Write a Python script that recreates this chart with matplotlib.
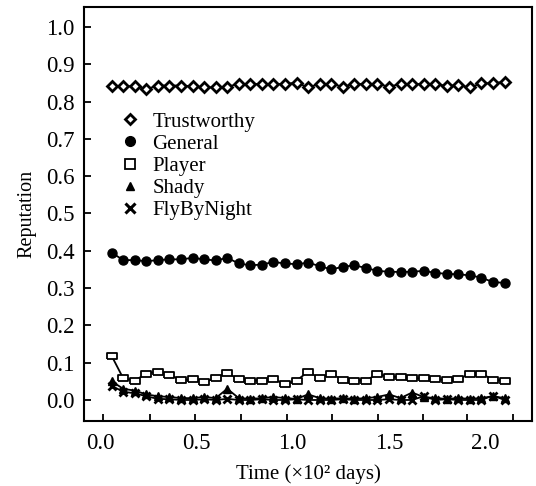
import matplotlib
matplotlib.use("Agg")
import matplotlib.pyplot as plt
from matplotlib.lines import Line2D

plt.rcParams['font.family'] = ['Liberation Serif', 'DejaVu Serif']

# time in units of 10^2 days
time = [0.06, 0.12, 0.18, 0.24, 0.30, 0.36, 0.42, 0.48, 0.54, 0.60,
        0.66, 0.72, 0.78, 0.84, 0.90, 0.96, 1.02, 1.08, 1.14, 1.20,
        1.26, 1.32, 1.38, 1.44, 1.50, 1.56, 1.62, 1.68, 1.74, 1.80,
        1.86, 1.92, 1.98, 2.04, 2.10]

trustworthy = [0.843, 0.841, 0.841, 0.833, 0.843, 0.843, 0.843, 0.841, 0.838, 0.838,
               0.840, 0.847, 0.847, 0.847, 0.847, 0.847, 0.851, 0.838, 0.847, 0.847,
               0.840, 0.847, 0.847, 0.847, 0.840, 0.847, 0.847, 0.847, 0.847, 0.842,
               0.844, 0.838, 0.849, 0.849, 0.853]

general = [0.395, 0.375, 0.375, 0.372, 0.375, 0.377, 0.377, 0.381, 0.377, 0.374,
           0.381, 0.366, 0.361, 0.363, 0.370, 0.366, 0.364, 0.368, 0.359, 0.350,
           0.357, 0.361, 0.354, 0.346, 0.344, 0.343, 0.344, 0.346, 0.341, 0.338,
           0.337, 0.334, 0.328, 0.316, 0.314]

player = [0.118, 0.058, 0.052, 0.071, 0.076, 0.067, 0.054, 0.055, 0.049, 0.058,
          0.073, 0.055, 0.052, 0.052, 0.055, 0.043, 0.052, 0.076, 0.058, 0.070,
          0.054, 0.052, 0.052, 0.070, 0.062, 0.062, 0.058, 0.058, 0.055, 0.054,
          0.055, 0.070, 0.071, 0.054, 0.052]

shady = [0.050, 0.030, 0.025, 0.015, 0.010, 0.008, 0.005, 0.005, 0.008, 0.005,
         0.030, 0.005, 0.003, 0.005, 0.008, 0.005, 0.003, 0.015, 0.005, 0.003,
         0.005, 0.003, 0.005, 0.008, 0.015, 0.005, 0.020, 0.008, 0.005, 0.003,
         0.005, 0.003, 0.005, 0.010, 0.005]

flybynight = [0.038, 0.022, 0.018, 0.010, 0.003, 0.002, 0.000, 0.000, 0.002, 0.000,
              0.003, 0.000, 0.000, 0.002, 0.000, 0.000, 0.002, 0.000, 0.000, 0.000,
              0.002, 0.000, 0.000, 0.000, 0.002, 0.000, 0.000, 0.010, 0.000, 0.002,
              0.000, 0.000, 0.000, 0.012, 0.000]

labels = ['Trustworthy', 'General', 'Player', 'Shady', 'FlyByNight']
x_labels = ['0.0', '0.5', '1.0', '1.5', '2.0']
x_label_pos = [0.0, 0.5, 1.0, 1.5, 2.0]
x_tick_marks = [0.016, 0.260, 0.494, 0.732, 0.971, 1.205, 1.444, 1.678, 1.906, 2.145]
y_ticks = [0.0, 0.1, 0.2, 0.3, 0.4, 0.5, 0.6, 0.7, 0.8, 0.9, 1.0]

rect = [(-1.5, -1), (1.5, -1), (1.5, 1), (-1.5, 1), (-1.5, -1)]


def main():
    fig = plt.figure(figsize=(5.36, 4.86), dpi=100)
    ax = fig.add_axes([0.157, 0.134, 0.836, 0.852])

    lw = 1.3
    ax.plot(time, flybynight, color='k', lw=lw, marker='x', ms=6, mew=2)
    ax.plot(time, shady, color='k', lw=lw, marker='^', ms=6, mfc='k')
    ax.plot(time, general, color='k', lw=lw, marker='o', ms=6.5, mfc='k')
    ax.plot(time, trustworthy, color='k', lw=lw, marker='D', ms=5.5, mfc='white', mew=2)
    ax.plot(time, player, color='k', lw=lw, marker=rect, ms=7.5, mfc='white', mew=1.3)

    handles = [
        Line2D([], [], ls='none', color='k', marker='D', ms=5.5, mfc='white', mew=2),
        Line2D([], [], ls='none', color='k', marker='o', ms=7, mfc='k'),
        Line2D([], [], ls='none', color='k', marker='s', ms=7, mfc='white', mew=1.3),
        Line2D([], [], ls='none', color='k', marker='^', ms=6, mfc='k'),
        Line2D([], [], ls='none', color='k', marker='x', ms=7, mew=2.2),
    ]
    ax.legend(handles, labels, loc='upper left', bbox_to_anchor=(0.055, 0.771),
              frameon=False, fontsize=15, handlelength=1.0, handletextpad=0.6,
              labelspacing=0.12, borderpad=0)

    ax.set_xlim(-0.083, 2.244)
    ax.set_ylim(-0.056, 1.054)

    ax.set_xticks(x_label_pos)
    ax.set_xticklabels(x_labels)
    ax.tick_params(axis='x', which='major', length=0, pad=9, labelsize=16.5)
    ax.set_xticks(x_tick_marks, minor=True)
    ax.tick_params(axis='x', which='minor', direction='in', length=5, width=1.3)

    ax.set_yticks(y_ticks)
    ax.set_yticklabels(['%.1f' % v for v in y_ticks])
    ax.tick_params(axis='y', direction='in', length=5, width=1.3, pad=7, labelsize=16.5)

    for s in ax.spines.values():
        s.set_linewidth(1.5)

    ax.set_xlabel('Time (×10² days)', fontsize=15, labelpad=7)
    ax.set_ylabel('Reputation', fontsize=14.5, labelpad=7)

    fig.savefig('out.png', dpi=100)


if __name__ == '__main__':
    main()
